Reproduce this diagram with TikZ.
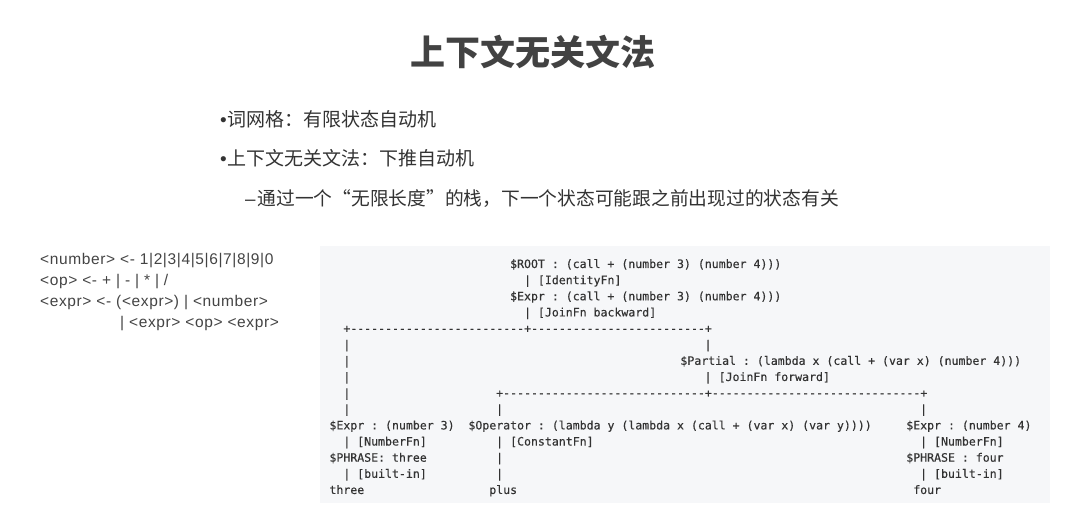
\documentclass[tikz,border=0pt]{standalone}
\usepackage{fontspec}
\setmainfont{Liberation Sans}
\setmonofont[FakeBold=0.3]{DejaVu Sans Mono}
\newfontfamily\cjk{Noto Sans CJK SC}
\newfontfamily\gram[LetterSpace=4]{Liberation Sans}
\ExplSyntaxOn
\NewDocumentCommand\rep{mm}{\prg_replicate:nn{#1}{#2}}
\ExplSyntaxOff
\definecolor{titlec}{HTML}{424242}
\definecolor{textc}{HTML}{333333}
\definecolor{gramc}{HTML}{444444}
\definecolor{codebg}{HTML}{F6F7F9}
\definecolor{codec}{HTML}{333333}
\tikzset{
  code/.style={anchor=base west, inner sep=0pt, font=\ttfamily\fontsize{11.55pt}{14pt}\selectfont, text=codec},
  bul/.style={anchor=base west, inner sep=0pt, font=\cjk\fontsize{19pt}{22pt}\selectfont, text=textc},
  gramline/.style={anchor=base west, inner sep=0pt, font=\gram\fontsize{15.5pt}{18pt}\selectfont, text=gramc},
}
\newcommand\cn[4]{\node[code] (#1) at ({329.25+(#2)*6.95},{268+(#3)*16.14}) {#4};}
\begin{document}
\begin{tikzpicture}[x=1pt,y=-1pt]
\useasboundingbox (0,0) rectangle (1080,513);
\fill[white] (0,0) rectangle (1080,513);
% title
\node[inner sep=0pt, anchor=base, text=titlec, font=\cjk\bfseries\fontsize{35pt}{40pt}\selectfont] (title) at (533,65.5) {上下文无关文法};
% bullets
\node[bul] (b1) at (220,126.5) {{\rmfamily •\kern1pt}词网格：有限状态自动机};
\node[bul] (b2) at (220,165.5) {{\rmfamily •\kern1pt}上下文无关文法：下推自动机};
\node[bul, font=\cjk\fontsize{18.75pt}{22pt}\selectfont] (b3) at (245,205.5) {{\rmfamily –\kern2pt}通过一个“无限长度”的栈，下一个状态可能跟之前出现过的状态有关};
% grammar
\node[gramline] (g1) at (40,264.5) {<number> <- 1|2|3|4|5|6|7|8|9|0};
\node[gramline] (g2) at (40,285.5) {<op> <- + | - | * | /};
\node[gramline] (g3) at (40,306.5) {<expr> <- (<expr>) | <number>};
\node[gramline] (g4) at (120,327.5) {| <expr> <op> <expr>};
% code box
\fill[codebg] (320,246) rectangle (1050,503);
\cn{r0a}{26}{0}{\$ROOT : (call + (number 3) (number 4)))}
\cn{r1a}{28}{1}{| [IdentityFn]}
\cn{r2a}{26}{2}{\$Expr : (call + (number 3) (number 4)))}
\cn{r3a}{28}{3}{| [JoinFn backward]}
\cn{r4a}{2}{4}{+\rep{25}{-}+\rep{25}{-}+}
\cn{r5a}{2}{5}{|}
\cn{r5b}{54}{5}{|}
\cn{r6a}{2}{6}{|}
\cn{r6b}{50.5}{6}{\$Partial : (lambda x (call + (var x) (number 4)))}
\cn{r7a}{2}{7}{|}
\cn{r7b}{54}{7}{| [JoinFn forward]}
\cn{r8a}{2}{8}{|}
\cn{r8b}{24}{8}{+\rep{29}{-}+\rep{30}{-}+}
\cn{r9a}{2}{9}{|}
\cn{r9b}{24}{9}{|}
\cn{r9c}{85}{9}{|}
\cn{r10a}{0}{10}{\$Expr : (number 3)}
\cn{r10b}{20}{10}{\$Operator : (lambda y (lambda x (call + (var x) (var y))))}
\cn{r10c}{83}{10}{\$Expr : (number 4)}
\cn{r11a}{2}{11}{| [NumberFn]}
\cn{r11b}{24}{11}{| [ConstantFn]}
\cn{r11c}{85}{11}{| [NumberFn]}
\cn{r12a}{0}{12}{\$PHRASE: three}
\cn{r12b}{24}{12}{|}
\cn{r12c}{83}{12}{\$PHRASE : four}
\cn{r13a}{2}{13}{| [built-in]}
\cn{r13b}{24}{13}{|}
\cn{r13c}{85}{13}{| [built-in]}
\cn{r14a}{0}{14}{three}
\cn{r14b}{23}{14}{plus}
\cn{r14c}{84}{14}{four}
\end{tikzpicture}
\end{document}
